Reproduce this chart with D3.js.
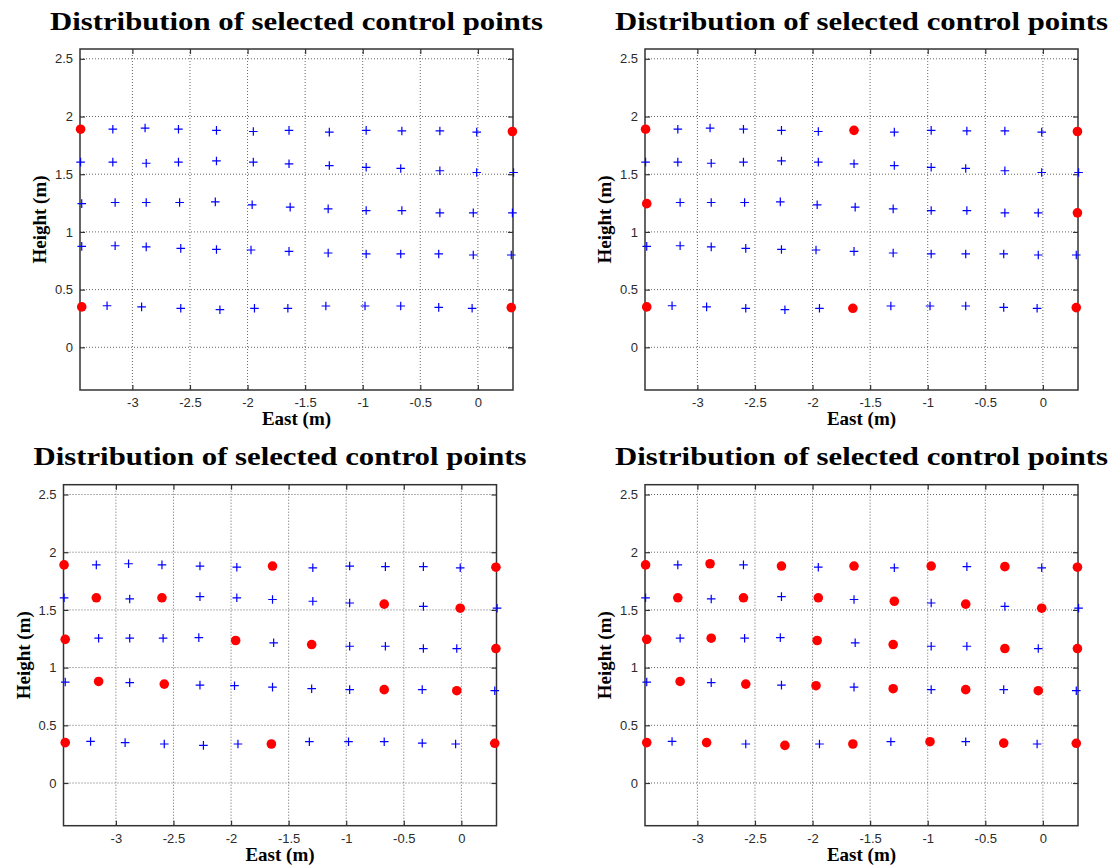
<!DOCTYPE html>
<html lang="en">
<head>
  <meta charset="UTF-8">
  <title>Distribution of selected control points</title>
  <script src="https://d3js.org/d3.v7.min.js"></script>
  <style>
    body { margin: 0; background: #fff; }
    .tick text { font-family: "Liberation Sans", Arial, sans-serif; font-size: 13px; fill: #2b2b2b; }
    .lbl { font-family: "Liberation Serif", "DejaVu Serif", serif; font-weight: bold; fill: #000; }
  </style>
</head>
<body>
<div class="main"></div>
<script>

  // measured control point grid: 5 rows x 13 columns (East, Height in m)
  var pointEast = [
    [-3.45, -3.17, -2.89, -2.60, -2.27, -1.95, -1.64, -1.29, -0.97, -0.66, -0.33, -0.01, 0.30],
    [-3.45, -3.17, -2.88, -2.60, -2.27, -1.95, -1.64, -1.29, -0.97, -0.67, -0.33, -0.01, 0.31],
    [-3.44, -3.15, -2.88, -2.59, -2.28, -1.96, -1.63, -1.30, -0.97, -0.66, -0.33, -0.04, 0.30],
    [-3.44, -3.15, -2.88, -2.58, -2.27, -1.97, -1.64, -1.30, -0.97, -0.67, -0.34, -0.04, 0.29],
    [-3.44, -3.22, -2.92, -2.58, -2.24, -1.94, -1.65, -1.32, -0.98, -0.67, -0.34, -0.05, 0.29]
  ];
  var pointHeight = [
    [1.89, 1.89, 1.90, 1.89, 1.88, 1.87, 1.88, 1.865, 1.88, 1.875, 1.875, 1.865, 1.87],
    [1.605, 1.605, 1.595, 1.605, 1.615, 1.605, 1.59, 1.575, 1.56, 1.55, 1.53, 1.515, 1.515],
    [1.245, 1.255, 1.255, 1.255, 1.26, 1.235, 1.215, 1.20, 1.185, 1.185, 1.165, 1.165, 1.165],
    [0.875, 0.88, 0.87, 0.857, 0.848, 0.843, 0.831, 0.817, 0.809, 0.809, 0.809, 0.80, 0.80],
    [0.35, 0.36, 0.35, 0.338, 0.326, 0.338, 0.338, 0.358, 0.358, 0.358, 0.346, 0.338, 0.344]
  ];

  // selected control points per panel, as [row, column]
  var selectedA = [[0,0],[0,12],[4,0],[4,12]];
  var selectedB = [[0,0],[0,6],[0,12],[2,0],[2,12],[4,0],[4,6],[4,12]];
  var selectedC = [[0,0],[0,6],[0,12],[1,1],[1,3],[1,9],[1,11],[2,0],[2,5],[2,7],[2,12],
                   [3,1],[3,3],[3,9],[3,11],[4,0],[4,6],[4,12]];
  var selectedD = [[0,0],[0,2],[0,4],[0,6],[0,8],[0,10],[0,12],[1,1],[1,3],[1,5],[1,7],[1,9],[1,11],
                   [2,0],[2,2],[2,5],[2,7],[2,10],[2,12],[3,1],[3,3],[3,5],[3,7],[3,9],[3,11],
                   [4,0],[4,2],[4,4],[4,6],[4,8],[4,10],[4,12]];

  var xTicks = [-3, -2.5, -2, -1.5, -1, -0.5, 0];
  var yTicks = [0, 0.5, 1, 1.5, 2, 2.5];
  var xDomain = [-3.455, 0.305];
  var yDomain = [-0.37, 2.585];

  var titleText = "Distribution of selected control points";
  var xLabel = "East (m)";
  var yLabel = "Height (m)";

  let width = 1113, height = 865;
  let plotW = 433, plotH = 341;

  // panel origins (top-left corner of each axes box)
  let panels = [
    {left: 80,   top: 49,    sel: selectedA},
    {left: 645,  top: 49,    sel: selectedB},
    {left: 63.5, top: 484.7, sel: selectedC},
    {left: 645,  top: 484.7, sel: selectedD}
  ];

  let svg = d3.select(".main")
          .append("svg")
          .attr("width", width)
          .attr("height", height)
          .style("display", "block");

  svg.append("rect").attr("width", width).attr("height", height).attr("fill", "#fff");

  let xScale = d3.scaleLinear().domain(xDomain).range([0, plotW]);
  let yScale = d3.scaleLinear().domain(yDomain).range([plotH, 0]);

  function drawPanel(p) {
    let g = svg.append("g").attr("transform", `translate(${p.left},${p.top})`);

    // dotted grid
    g.append("g").selectAll("line").data(xTicks).join("line")
            .attr("x1", d => xScale(d)).attr("x2", d => xScale(d))
            .attr("y1", 0).attr("y2", plotH)
            .attr("stroke", "#666").attr("stroke-width", 1).attr("stroke-dasharray", "1,2");
    g.append("g").selectAll("line").data(yTicks).join("line")
            .attr("y1", d => yScale(d)).attr("y2", d => yScale(d))
            .attr("x1", 0).attr("x2", plotW)
            .attr("stroke", "#666").attr("stroke-width", 1).attr("stroke-dasharray", "1,2");

    // axes with inward ticks on all four sides
    let fmt = d => String(d);
    let axB = g.append("g").attr("transform", `translate(0,${plotH})`)
            .call(d3.axisBottom(xScale).tickValues(xTicks).tickFormat(fmt).tickSizeInner(-5).tickSizeOuter(0).tickPadding(8));
    let axT = g.append("g")
            .call(d3.axisTop(xScale).tickValues(xTicks).tickFormat("").tickSizeInner(-5).tickSizeOuter(0));
    let axL = g.append("g")
            .call(d3.axisLeft(yScale).tickValues(yTicks).tickFormat(fmt).tickSizeInner(-5).tickSizeOuter(0).tickPadding(7));
    let axR = g.append("g").attr("transform", `translate(${plotW},0)`)
            .call(d3.axisRight(yScale).tickValues(yTicks).tickFormat("").tickSizeInner(-5).tickSizeOuter(0));
    [axB, axT, axL, axR].forEach(a => {
      a.select(".domain").remove();
      a.selectAll(".tick line").attr("stroke", "#333").attr("stroke-width", 1.2);
    });
    axB.selectAll(".tick text").attr("font-family", null).attr("font-size", null);
    axL.selectAll(".tick text").attr("font-family", null).attr("font-size", null);

    g.append("rect").attr("width", plotW).attr("height", plotH)
            .attr("fill", "none").attr("stroke", "#333").attr("stroke-width", 1.5);

    // points
    let isSel = {};
    p.sel.forEach(s => { isSel[s[0] + "_" + s[1]] = true; });
    let pts = [];
    for (let r = 0; r < pointEast.length; r++) {
      for (let c = 0; c < pointEast[r].length; c++) {
        pts.push({e: pointEast[r][c], h: pointHeight[r][c], sel: !!isSel[r + "_" + c]});
      }
    }
    g.append("g").selectAll("path").data(pts.filter(d => !d.sel)).join("path")
            .attr("transform", d => `translate(${xScale(d.e)},${yScale(d.h)})`)
            .attr("d", "M-4.3,0H4.3M0,-4.3V4.3")
            .attr("stroke", "#0000ff").attr("stroke-width", 1.2).attr("fill", "none");
    g.append("g").selectAll("circle").data(pts.filter(d => d.sel)).join("circle")
            .attr("cx", d => xScale(d.e)).attr("cy", d => yScale(d.h))
            .attr("r", 4.8).attr("fill", "#ff0000");

    // title and axis labels
    g.append("text").attr("class", "lbl")
            .attr("x", plotW / 2).attr("y", -19.5)
            .attr("text-anchor", "middle").style("font-size", "26px")
            .attr("textLength", 493).attr("lengthAdjust", "spacingAndGlyphs")
            .text(titleText);
    g.append("text").attr("class", "lbl")
            .attr("x", plotW / 2).attr("y", plotH + 35)
            .attr("text-anchor", "middle").style("font-size", "19px")
            .text(xLabel);
    g.append("text").attr("class", "lbl")
            .attr("transform", `translate(-34,${plotH / 2}) rotate(-90)`)
            .attr("text-anchor", "middle").style("font-size", "19px")
            .text(yLabel);
  }

  panels.forEach(drawPanel);

</script>
</body>
</html>
